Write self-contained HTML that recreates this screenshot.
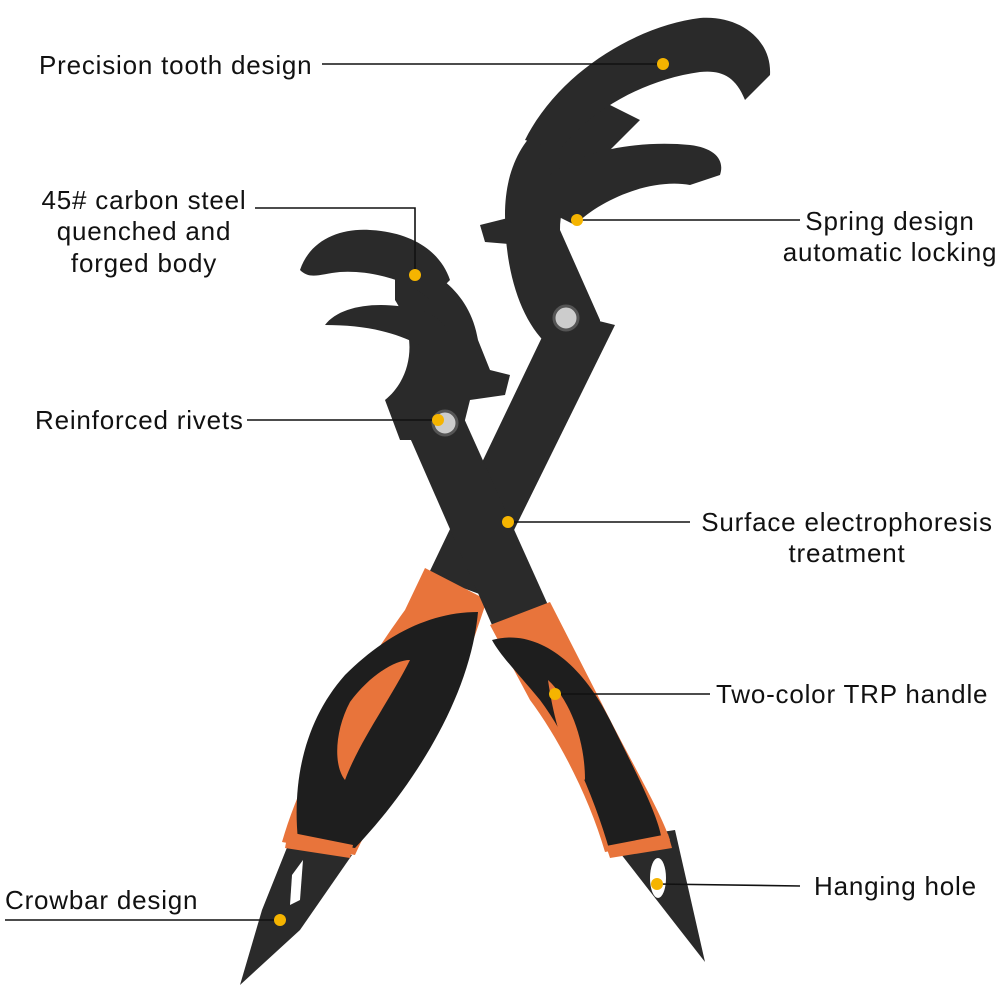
<!DOCTYPE html>
<html><head><meta charset="utf-8"><style>
html,body{margin:0;padding:0;background:#fff;}
svg{display:block}
text{font-family:"Liberation Sans",Arial,sans-serif;font-size:26px;letter-spacing:0.8px;fill:#111;}
</style></head><body>
<svg width="1000" height="1000" viewBox="0 0 1000 1000">
<!-- Large-head wrench -->
<g fill="#2a2a2a">
  <polygon points="555,310 615,325 482,595 428,575"/>
  <path d="M505,215 C505,150 540,110 600,100 L640,120 L600,160 C575,175 560,200 560,230 L600,320 L600,345 L548,345 C520,320 505,270 505,215Z"/>
  <polygon points="480,225 520,215 520,245 485,242"/>
  <path d="M525,140 C560,70 640,25 700,18 C740,15 772,40 770,75 L745,100 C735,75 720,70 700,72 C640,80 585,115 560,150Z"/>
  <path d="M550,175 C580,150 640,140 690,145 C715,148 725,160 720,175 L690,185 C650,178 600,200 575,225 L555,215Z"/>
  <polygon points="288,845 352,855 300,930 240,985 262,910"/>
</g>
<circle cx="566" cy="318" r="12" fill="#ccc" stroke="#555" stroke-width="3"/>
<!-- left handle -->
<path d="M425,568 L487,600 L470,650 C430,720 380,800 355,855 L282,842 C300,780 340,700 405,610Z" fill="#e8743b"/>
<path d="M478,612 C470,700 410,790 355,848 L298,840 C292,780 305,720 345,675 C385,635 430,612 478,612Z" fill="#1e1e1e"/>
<path d="M410,660 C390,700 360,740 345,780 C333,765 335,730 350,702 C370,675 395,660 410,660Z" fill="#e8743b"/>
<polygon points="288,832 353,845 350,858 285,848" fill="#e8743b"/>
<path d="M292,875 L303,860 L300,900 L290,905Z" fill="#fff"/>

<!-- Small-head wrench -->
<g fill="#2a2a2a">
  <polygon points="400,415 458,405 548,605 492,625"/>
  <path d="M395,260 C430,265 470,290 478,340 L490,370 L510,375 L505,395 L470,400 L460,440 L400,440 L385,400 C410,380 420,340 395,300Z"/>
  <path d="M300,270 C310,240 340,228 370,230 C410,232 440,250 450,280 L430,300 C410,280 370,270 340,272 C320,274 310,280 300,270Z"/>
  <path d="M325,325 C340,305 380,300 420,310 C445,318 455,335 445,350 L420,345 C390,330 360,325 325,325Z"/>
  <polygon points="610,840 675,830 705,962 680,930"/>
</g>
<circle cx="445" cy="423" r="12" fill="#ccc" stroke="#555" stroke-width="3"/>
<!-- right handle -->
<path d="M490,625 L550,602 L600,700 C630,760 660,810 670,840 L605,852 C590,800 560,740 530,700Z" fill="#e8743b"/>
<path d="M492,640 C535,628 580,660 610,720 C640,780 660,820 662,842 L610,852 C595,800 570,740 540,700 C515,670 500,655 492,640Z" fill="#1e1e1e"/>
<path d="M548,680 C570,700 585,740 585,780 C570,770 555,730 548,680Z" fill="#e8743b"/>
<polygon points="606,846 668,834 672,848 610,858" fill="#e8743b"/>
<ellipse cx="658" cy="878" rx="8" ry="20" fill="#fff"/>

<g stroke="#111" stroke-width="1.6" fill="none">
  <line x1="322" y1="64" x2="663" y2="64"/>
  <polyline points="255,208 415,208 415,275"/>
  <line x1="577" y1="220" x2="800" y2="220"/>
  <line x1="247" y1="420" x2="438" y2="420"/>
  <line x1="508" y1="522" x2="690" y2="522"/>
  <line x1="555" y1="694" x2="710" y2="694"/>
  <line x1="657" y1="884" x2="800" y2="886"/>
  <line x1="5" y1="920" x2="280" y2="920"/>
</g>
<g fill="#f5b400">
  <circle cx="663" cy="64" r="6"/>
  <circle cx="415" cy="275" r="6"/>
  <circle cx="577" cy="220" r="6"/>
  <circle cx="438" cy="420" r="6"/>
  <circle cx="508" cy="522" r="6"/>
  <circle cx="555" cy="694" r="6"/>
  <circle cx="657" cy="884" r="6"/>
  <circle cx="280" cy="920" r="6"/>
</g>

<text x="39" y="74">Precision tooth design</text>
<text x="144" y="209" text-anchor="middle">45# carbon steel</text>
<text x="144" y="240" text-anchor="middle">quenched and</text>
<text x="144" y="272" text-anchor="middle">forged body</text>
<text x="890" y="230" text-anchor="middle">Spring design</text>
<text x="890" y="261" text-anchor="middle">automatic locking</text>
<text x="35" y="429">Reinforced rivets</text>
<text x="847" y="531" text-anchor="middle">Surface electrophoresis</text>
<text x="847" y="562" text-anchor="middle">treatment</text>
<text x="716" y="703">Two-color TRP handle</text>
<text x="814" y="895">Hanging hole</text>
<text x="5" y="909">Crowbar design</text>
</svg>
</body></html>
